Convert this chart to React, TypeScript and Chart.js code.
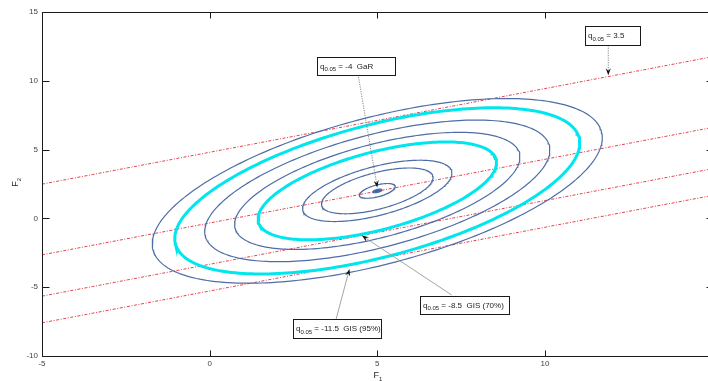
import React, { useEffect, useRef } from "react";
import { Chart, registerables } from "chart.js";

Chart.register(...registerables);

// ---- data ----
const xTicks = [-5, 0, 5, 10, 15];
const yTicks = [-10, -5, 0, 5, 10, 15];

// concentric contour ellipses (data units)
const contourCenterX = 5;
const contourCenterY = 2;
const contourSemiMajor = 8.42;
const contourSemiMinor = 4.38;
const contourAngleDeg = 45;
const contourScales = [0.02, 0.08, 0.248, 0.332, 0.53, 0.634, 0.767, 0.9, 1.0];
const contourHighlighted = [false, false, false, false, true, false, false, true, false];
const contourFilled = [true, false, false, false, false, false, false, false, false];

// iso-quantile lines  y = start + slope * (x - xStart)
const quantileLevels = [3.5, -4, -8.5, -11.5];
const quantileStartX = -5;
const quantileEndX = 15;
const quantileStartY = [2.49, -2.65, -5.65, -7.59];
const quantileSlope = 0.463;

// annotation labels
const annotationTexts = ["= -4  GaR", "= 3.5", "= -11.5  GIS (95%)", "= -8.5  GIS (70%)"];

// ---- layout of annotations (data coordinates) ----
const annotationLayout = [
  { box: [3.2, 11.73, 5.53, 10.4], tail: [4.44, 10.28], head: [5.0, 2.25], dotted: true },
  { box: [11.19, 13.98, 12.85, 12.63], tail: [11.89, 12.58], head: [11.89, 10.4], dotted: true },
  { box: [2.48, -7.34, 5.11, -8.72], tail: [3.77, -7.34], head: [4.17, -3.68], dotted: false },
  { box: [6.28, -5.62, 8.94, -6.98], tail: [7.22, -5.57], head: [4.54, -1.25], dotted: false },
];

const FONT = "'Liberation Sans', Arial, Helvetica, sans-serif";

function ellipsePoints(scale: number) {
  const th = (contourAngleDeg * Math.PI) / 180;
  const c = Math.cos(th);
  const s = Math.sin(th);
  const pts: { x: number; y: number }[] = [];
  const n = 240;
  for (let i = 0; i <= n; i++) {
    const t = (i / n) * Math.PI * 2;
    const u = contourSemiMajor * Math.cos(t) * scale;
    const v = contourSemiMinor * Math.sin(t) * scale;
    pts.push({ x: contourCenterX + u * c - v * s, y: contourCenterY + u * s + v * c });
  }
  return pts;
}

function drawArrow(ctx: CanvasRenderingContext2D, x0: number, y0: number, x1: number, y1: number, dotted: boolean) {
  const ang = Math.atan2(y1 - y0, x1 - x0);
  const len = 7;
  const hw = 2.6;
  ctx.save();
  ctx.strokeStyle = dotted ? "#7a7a7a" : "#9a9a9a";
  ctx.lineWidth = 0.9;
  ctx.setLineDash(dotted ? [1.2, 1.2] : []);
  ctx.beginPath();
  ctx.moveTo(x0, y0);
  ctx.lineTo(x1 - Math.cos(ang) * len * 0.7, y1 - Math.sin(ang) * len * 0.7);
  ctx.stroke();
  ctx.setLineDash([]);
  ctx.fillStyle = "#111";
  ctx.beginPath();
  ctx.moveTo(x1, y1);
  const bx = x1 - Math.cos(ang) * len;
  const by = y1 - Math.sin(ang) * len;
  ctx.lineTo(bx - Math.sin(ang) * hw, by + Math.cos(ang) * hw);
  ctx.lineTo(x1 - Math.cos(ang) * len * 0.65, y1 - Math.sin(ang) * len * 0.65);
  ctx.lineTo(bx + Math.sin(ang) * hw, by - Math.cos(ang) * hw);
  ctx.closePath();
  ctx.fill();
  ctx.restore();
}

const framePlugin = {
  id: "frameAndNotes",
  afterDatasetsDraw(chart: any) {
    const ctx: CanvasRenderingContext2D = chart.ctx;
    const { left, right, top, bottom } = chart.chartArea;
    const xs = chart.scales.x;
    const ys = chart.scales.y;
    ctx.save();
    // frame
    ctx.strokeStyle = "#1a1a1a";
    ctx.lineWidth = 1;
    const L = Math.round(left) + 0.5;
    const R = Math.round(right) + 0.5;
    const T = Math.round(top) + 0.5;
    const B = Math.round(bottom) + 0.5;
    ctx.beginPath();
    ctx.moveTo(L, T);
    ctx.lineTo(R, T);
    ctx.lineTo(R, B);
    ctx.lineTo(L, B);
    ctx.closePath();
    ctx.stroke();
    // inward ticks
    ctx.beginPath();
    xTicks.forEach((v) => {
      const p = Math.round(xs.getPixelForValue(v)) + 0.5;
      ctx.moveTo(p, B);
      ctx.lineTo(p, B - 6);
      ctx.moveTo(p, T);
      ctx.lineTo(p, T + 6);
    });
    yTicks.forEach((v) => {
      const p = Math.round(ys.getPixelForValue(v)) + 0.5;
      ctx.moveTo(L, p);
      ctx.lineTo(L + 7, p);
      ctx.moveTo(R, p);
      ctx.lineTo(R - 7, p);
    });
    ctx.stroke();

    // axis titles
    ctx.fillStyle = "#222";
    ctx.textBaseline = "alphabetic";
    const fx = xs.getPixelForValue(5);
    ctx.font = `9px ${FONT}`;
    const wF = ctx.measureText("F").width;
    ctx.textAlign = "left";
    ctx.fillText("F", fx - wF / 2 - 1, 378);
    ctx.font = `6px ${FONT}`;
    ctx.fillText("1", fx + wF / 2 - 1, 380.5);

    ctx.save();
    ctx.translate(18, (top + bottom) / 2 - 1);
    ctx.rotate(-Math.PI / 2);
    ctx.font = `9px ${FONT}`;
    ctx.fillText("F", -wF / 2 - 1, 0);
    ctx.font = `6px ${FONT}`;
    ctx.fillText("2", wF / 2 - 1, 2.5);
    ctx.restore();

    // annotations
    annotationLayout.forEach((a, i) => {
      const tx = xs.getPixelForValue(a.tail[0]);
      const ty = ys.getPixelForValue(a.tail[1]);
      const hx = xs.getPixelForValue(a.head[0]);
      const hy = ys.getPixelForValue(a.head[1]);
      drawArrow(ctx, tx, ty, hx, hy, a.dotted);
      const l = Math.round(xs.getPixelForValue(a.box[0]));
      const r = Math.round(xs.getPixelForValue(a.box[2]));
      const t = Math.round(ys.getPixelForValue(a.box[1]));
      const b = Math.round(ys.getPixelForValue(a.box[3]));
      ctx.fillStyle = "#fff";
      ctx.fillRect(l, t, r - l, b - t);
      ctx.strokeStyle = "#1a1a1a";
      ctx.lineWidth = 1;
      ctx.strokeRect(l + 0.5, t + 0.5, r - l, b - t);
      const base = (t + b) / 2 + 3;
      let cx = l + 3;
      ctx.fillStyle = "#222";
      ctx.textAlign = "left";
      ctx.font = `8px ${FONT}`;
      ctx.fillText("q", cx, base - 0.5);
      cx += ctx.measureText("q").width;
      ctx.font = `6px ${FONT}`;
      ctx.fillText("0.05", cx, base + 2);
      cx += ctx.measureText("0.05").width;
      ctx.font = `8px ${FONT}`;
      ctx.fillText(" " + annotationTexts[i], cx, base - 0.5);
    });
    ctx.restore();
  },
};

export default function App() {
  const ref = useRef<HTMLCanvasElement | null>(null);
  useEffect(() => {
    if (!ref.current) return;
    const datasets: any[] = [];
    contourScales.forEach((s, i) => {
      const hi = contourHighlighted[i];
      datasets.push({
        label: `contour ${i}`,
        data: ellipsePoints(s),
        showLine: true,
        borderColor: hi ? "#00e6ee" : "#4d6ea6",
        borderWidth: hi ? 3 : 1.2,
        backgroundColor: "#3f63a8",
        fill: contourFilled[i] ? "shape" : false,
        pointRadius: 0,
        tension: 0,
      });
    });
    quantileLevels.forEach((q, i) => {
      datasets.push({
        label: `q = ${q}`,
        data: [
          { x: quantileStartX, y: quantileStartY[i] },
          { x: quantileEndX, y: quantileStartY[i] + quantileSlope * (quantileEndX - quantileStartX) },
        ],
        showLine: true,
        borderColor: "#e8414d",
        borderWidth: 1,
        borderDash: [3, 1.6, 1, 1.6],
        pointRadius: 0,
        fill: false,
      });
    });
    const chart = new Chart(ref.current, {
      type: "scatter",
      data: { datasets },
      options: {
        animation: false,
        responsive: false,
        events: [],
        layout: { padding: { top: 12, right: 7, left: 0, bottom: 0 }, autoPadding: false },
        plugins: { legend: { display: false }, tooltip: { enabled: false }, title: { display: false } },
        scales: {
          x: {
            type: "linear",
            min: -5,
            max: 15,
            grid: { display: false, drawTicks: false, tickLength: 0 },
            border: { display: false },
            afterBuildTicks: (scale: any) => {
              scale.ticks = xTicks.map((v) => ({ value: v }));
            },
            afterFit: (scale: any) => {
              scale.height = 25;
            },
            ticks: { color: "#444", font: { family: FONT, size: 8 }, padding: 3, maxRotation: 0 },
          },
          y: {
            type: "linear",
            min: -10,
            max: 15,
            grid: { display: false, drawTicks: false, tickLength: 0 },
            border: { display: false },
            afterBuildTicks: (scale: any) => {
              scale.ticks = yTicks.map((v) => ({ value: v }));
            },
            afterFit: (scale: any) => {
              scale.width = 42;
            },
            ticks: { color: "#444", font: { family: FONT, size: 8 }, padding: 4 },
          },
        },
      },
      plugins: [framePlugin],
    });
    return () => chart.destroy();
  }, []);
  return (
    <div
      style={{
        position: "fixed",
        left: 0,
        top: 0,
        width: 708,
        height: 381,
        overflow: "hidden",
        background: "#fff",
      }}
    >
      <canvas ref={ref} width={720} height={381} style={{ display: "block", width: 720, height: 381 }} />
    </div>
  );
}
